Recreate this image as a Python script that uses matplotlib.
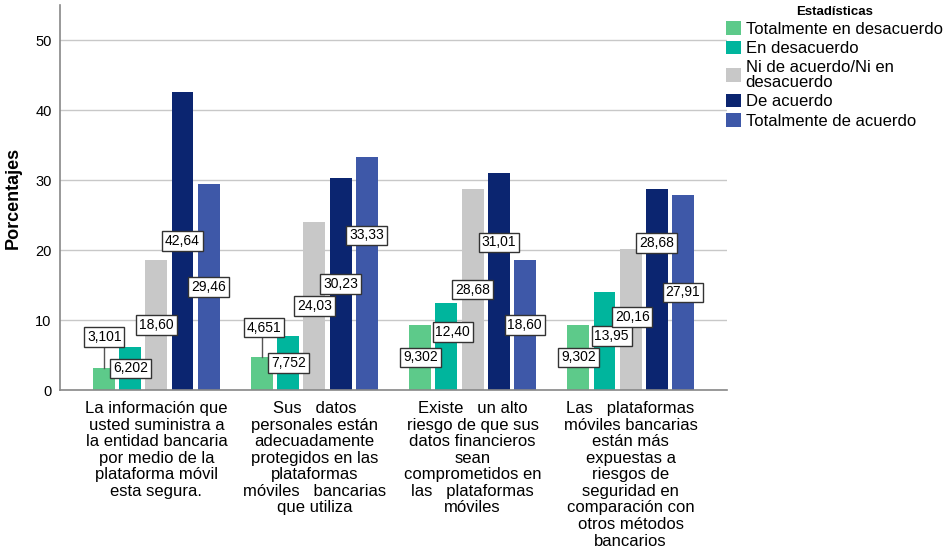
import matplotlib
matplotlib.use('Agg')
import matplotlib.pyplot as plt
import numpy as np

plt.rcParams['font.family'] = ['Liberation Sans', 'DejaVu Sans']

categorias = [
    'La información que\nusted suministra a\nla entidad bancaria\npor medio de la\nplataforma móvil\nesta segura.',
    'Sus   datos\npersonales están\nadecuadamente\nprotegidos en las\nplataformas\nmóviles   bancarias\nque utiliza',
    'Existe   un alto\nriesgo de que sus\ndatos financieros\nsean\ncomprometidos en\nlas   plataformas\nmóviles',
    'Las   plataformas\nmóviles bancarias\nestán más\nexpuestas a\nriesgos de\nseguridad en\ncomparación con\notros métodos\nbancarios',
]
series = ['Totalmente en desacuerdo', 'En desacuerdo', 'Ni de acuerdo/Ni en\ndesacuerdo',
          'De acuerdo', 'Totalmente de acuerdo']
totalmente_desacuerdo = [3.101, 4.651, 9.302, 9.302]
en_desacuerdo = [6.202, 7.752, 12.40, 13.95]
ni_ni = [18.60, 24.03, 28.68, 20.16]
de_acuerdo = [42.64, 30.23, 31.01, 28.68]
totalmente_acuerdo = [29.46, 33.33, 18.60, 27.91]
etiquetas = [
    ['3,101', '4,651', '9,302', '9,302'],
    ['6,202', '7,752', '12,40', '13,95'],
    ['18,60', '24,03', '28,68', '20,16'],
    ['42,64', '30,23', '31,01', '28,68'],
    ['29,46', '33,33', '18,60', '27,91'],
]
valores = [totalmente_desacuerdo, en_desacuerdo, ni_ni, de_acuerdo, totalmente_acuerdo]
colores = ['#5DCA8A', '#00B59D', '#C8C8C8', '#0B2570', '#3E58A8']

# labels that SPSS moved away from the bar middle: (serie, grupo) -> (y, dx, leader)
movidas = {(0, 0): (7.6, 0, True), (0, 1): (8.9, 0.01, True), (1, 2): (8.3, 0.04, False),
           (1, 3): (7.7, 0.045, False), (2, 3): (10.4, 0.01, False), (1, 0): (3.1, 0, False),
           (3, 2): (21.1, 0, False), (3, 3): (21.0, 0, False), (4, 1): (22.1, 0, False)}

fig = plt.figure(figsize=(9.48, 5.5), dpi=100)
ax = fig.add_axes([60/948, 160/550, 667/948, 385/550])

x = np.arange(len(categorias))
ancho = 0.139
paso = 0.165
for i, vals in enumerate(valores):
    pos = x + (i - 2) * paso
    ax.bar(pos, vals, width=ancho, color=colores[i], label=series[i], zorder=2)
    for j, v in enumerate(vals):
        y, dx, leader = movidas.get((i, j), (v / 2, 0, False))
        if leader:
            ax.plot([pos[j], pos[j]], [v, y], color='#555555', lw=1, zorder=3)
        ax.text(pos[j] + dx, y, etiquetas[i][j], ha='center', va='center', fontsize=10,
                zorder=4, bbox=dict(boxstyle='square,pad=0.2', fc='white', ec='#333333', lw=1))

ax.set_xlim(-0.61, 3.61)
ax.set_ylim(0, 55)
ax.set_yticks([0, 10, 20, 30, 40, 50])
ax.set_xticks(x)
ax.set_xticklabels(categorias, fontsize=12, linespacing=1.13, va='top')
ax.tick_params(axis='both', length=0, labelsize=10.5)
ax.tick_params(axis='x', pad=8, labelsize=12)
ax.tick_params(axis='y', pad=6)
ax.yaxis.grid(True, color='#C8C8C8', lw=1, zorder=0)
ax.set_axisbelow(True)
for s in ['top', 'right']:
    ax.spines[s].set_visible(False)
for s in ['left', 'bottom']:
    ax.spines[s].set_color('#888888')
    ax.spines[s].set_linewidth(1.2)
ax.set_ylabel('Porcentajes', fontsize=13, fontweight='bold', labelpad=10)

leg = fig.legend(loc='upper left', bbox_to_anchor=(724/948, 0.993), frameon=False,
                 title='Estadísticas', fontsize=12, handlelength=0.9, handleheight=0.9,
                 handletextpad=0.3, labelspacing=0.22, borderaxespad=0.0, borderpad=0.1)
leg.get_title().set_fontweight('bold')
leg.get_title().set_fontsize(9.5)
leg._legend_box.align = 'center'
for t in leg.get_texts():
    t.set_linespacing(1.0)

fig.savefig('out.png', dpi=100)
